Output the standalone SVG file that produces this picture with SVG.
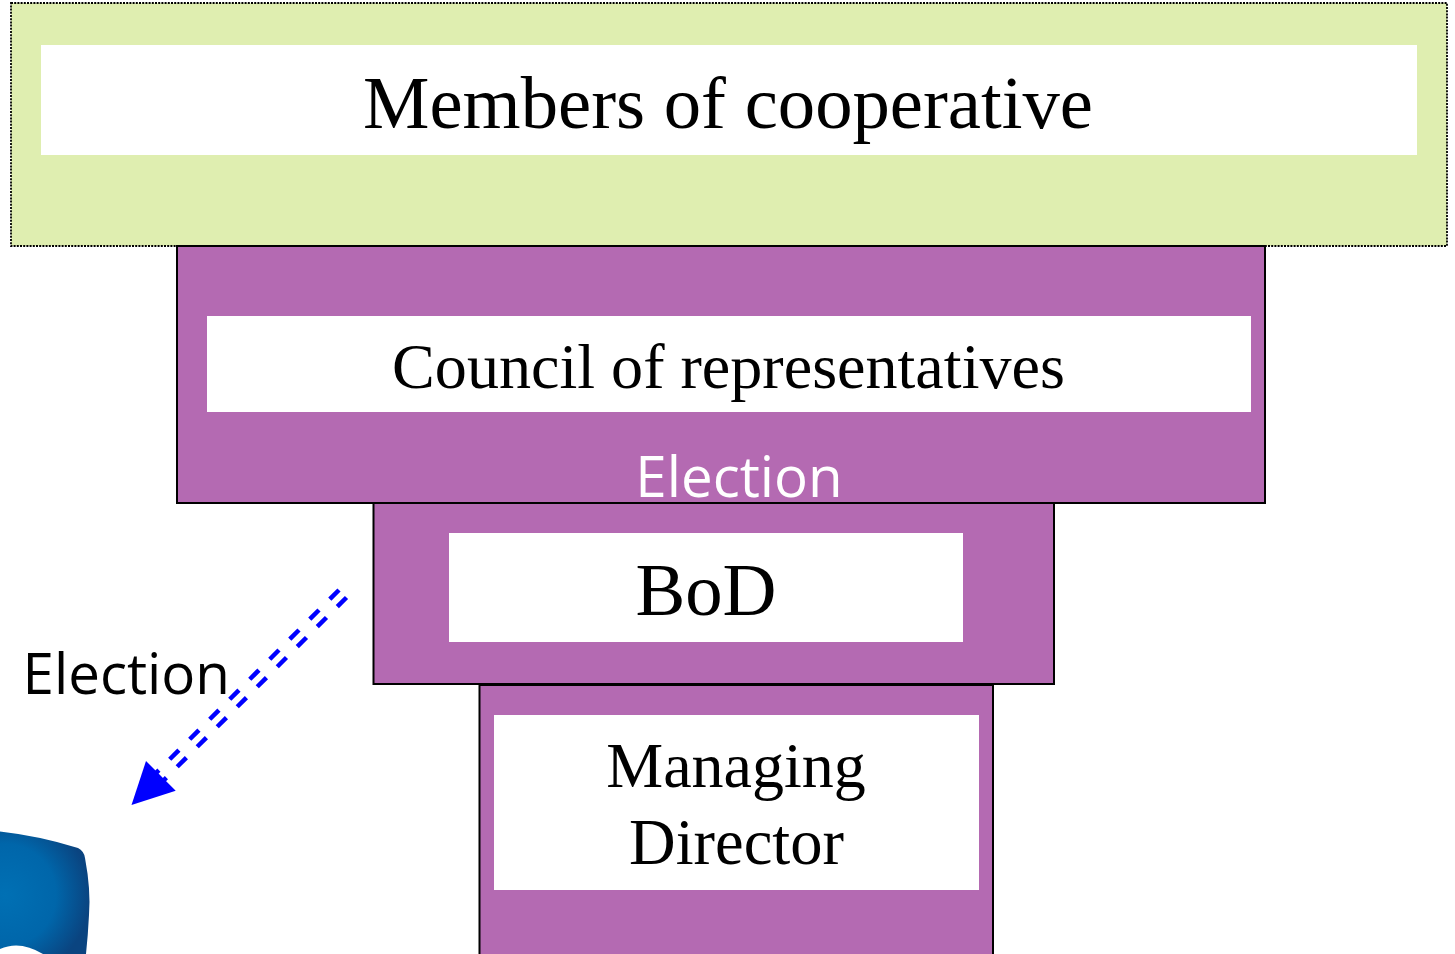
<svg xmlns="http://www.w3.org/2000/svg" width="1455" height="954" viewBox="0 0 1455 954">
<style>
.p{fill:#b46ab2;stroke:#000;stroke-width:2}
.w{fill:#fff}
.t{font-family:"Liberation Serif",serif;fill:#000;text-anchor:middle}
.c{font-family:"Open Sans","Noto Sans",sans-serif;font-size:56.5px}
.d{fill:none;stroke:#00f;stroke-width:4.5;stroke-dasharray:13 15.3}
</style>
<defs>
<radialGradient id="sh" gradientUnits="userSpaceOnUse" cx="5" cy="895" r="85">
<stop offset="0" stop-color="#0070b4"/><stop offset="0.6" stop-color="#0066aa"/><stop offset="1" stop-color="#0a4480"/>
</radialGradient>
</defs>
<rect width="1455" height="954" fill="#fff"/>
<g id="members"><rect x="11" y="3" width="1436" height="243" fill="#dfeeb0" stroke="#000" stroke-width="1.8" stroke-dasharray="2 1.2"/><rect class="w" x="41" y="45" width="1376" height="110"/><text class="t" x="728" y="127.500" font-size="74.7">Members of cooperative</text></g>
<g id="council"><rect class="p" x="177" y="246" width="1088" height="257"/><rect class="w" x="207" y="316" width="1044" height="96"/><text class="t" x="728.500" y="387.500" font-size="64.1">Council of representatives</text><text class="c" x="739" y="497" fill="#fff" text-anchor="middle">Election</text></g>
<g id="bod"><rect class="p" x="373.500" y="503" width="680.500" height="181"/><rect class="w" x="449" y="533" width="514" height="109"/><text class="t" x="706" y="615" font-size="74.7">BoD</text></g>
<g id="director"><rect class="p" x="479.500" y="685" width="513.500" height="275"/><rect class="w" x="494" y="715" width="485" height="175"/><text class="t" x="736" y="787" font-size="64">Managing</text><text class="t" x="736.500" y="864" font-size="64.500">Director</text></g>
<g id="connectors"><path class="d" d="M339 590L150 779"/><path class="d" d="M346.500 597.500L157.500 786.500"/><path d="M131.500 805L146 761L175.700 790.700Z" fill="#00f"/></g>
<text id="election-label" class="c" x="22.500" y="693.500">Election</text>
<g id="shield"><path d="M0 831.500Q40 836 78 848Q84 851 85 858Q91 890 89 915Q88 935 86 954H0Z" fill="url(#sh)"/><path d="M0 949Q20 940 43 954H0Z" fill="#fff"/></g>
</svg>
